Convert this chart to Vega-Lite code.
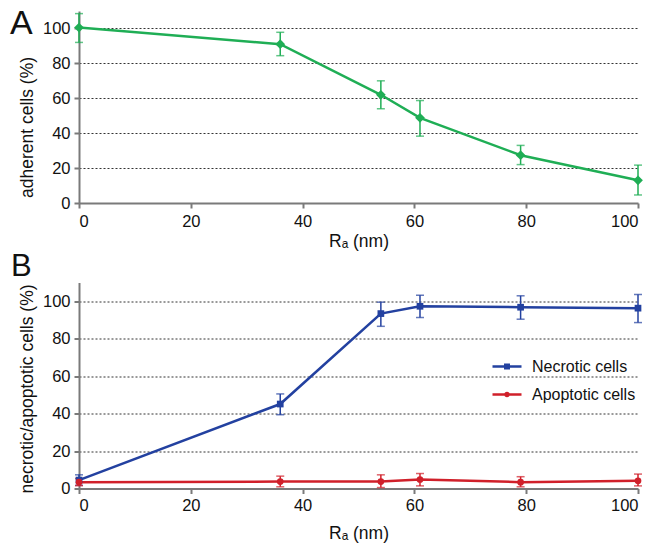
{
  "$schema": "https://vega.github.io/schema/vega-lite/v6.json",
  "background": "white",
  "padding": {"left": 10, "top": 7, "right": 5, "bottom": 5},
  "spacing": 0.5,
  "resolve": {"scale": {"shape": "independent", "color": "independent"}, "legend": {"shape": "independent", "color": "independent"}},
  "datasets": {
    "adherent": [
      {"Ra": 0, "value": 100.5, "lo": 92, "hi": 108.5},
      {"Ra": 36, "value": 91, "lo": 84.4, "hi": 97.8},
      {"Ra": 54, "value": 62, "lo": 54, "hi": 70},
      {"Ra": 61, "value": 48.8, "lo": 38.3, "hi": 58.7},
      {"Ra": 79, "value": 27.4, "lo": 22, "hi": 33},
      {"Ra": 100, "value": 13, "lo": 4.6, "hi": 21.7}
    ],
    "death": [
      {"series": "Necrotic cells", "Ra": 0, "value": 4.5, "lo": 1.7, "hi": 7.3},
      {"series": "Necrotic cells", "Ra": 36, "value": 45.1, "lo": 39.4, "hi": 50.5},
      {"series": "Necrotic cells", "Ra": 54, "value": 93.4, "lo": 86.6, "hi": 99.5},
      {"series": "Necrotic cells", "Ra": 61, "value": 97.3, "lo": 91.3, "hi": 103.2},
      {"series": "Necrotic cells", "Ra": 79, "value": 96.8, "lo": 90.4, "hi": 102.9},
      {"series": "Necrotic cells", "Ra": 100, "value": 96.3, "lo": 88.6, "hi": 103.6},
      {"series": "Apoptotic cells", "Ra": 0, "value": 3.4, "lo": 1.5, "hi": 5.3},
      {"series": "Apoptotic cells", "Ra": 36, "value": 3.7, "lo": 0.9, "hi": 6.6},
      {"series": "Apoptotic cells", "Ra": 54, "value": 3.7, "lo": 0.5, "hi": 7.3},
      {"series": "Apoptotic cells", "Ra": 61, "value": 4.8, "lo": 1.4, "hi": 8},
      {"series": "Apoptotic cells", "Ra": 79, "value": 3.4, "lo": 0.9, "hi": 6.3},
      {"series": "Apoptotic cells", "Ra": 100, "value": 4.1, "lo": 1.4, "hi": 7.7}
    ]
  },
  "vconcat": [
    {
      "width": 559,
      "height": 192,
      "title": {"text": "A", "anchor": "start", "frame": "group", "fontSize": 34, "fontWeight": "normal", "dx": -69, "dy": 30, "offset": 0, "color": "#111"},
      "data": {"name": "adherent"},
      "encoding": {
        "x": {"field": "Ra", "type": "quantitative", "scale": {"domain": [0, 100], "nice": false}, "axis": {"values": [0, 20, 40, 60, 80, 100], "grid": false, "title": "Rₐ (nm)", "labelPadding": 5.5, "titlePadding": 2}},
        "y": {"field": "value", "type": "quantitative", "scale": {"domain": [0, 110], "nice": false}, "title": "adherent cells (%)", "axis": {"values": [0, 20, 40, 60, 80, 100], "grid": true, "titleY": 116}}
      },
      "layer": [
        {
          "mark": {"type": "errorbar", "ticks": {"size": 8, "thickness": 1.5}, "rule": {"strokeWidth": 1.5}, "color": "#1fae55"},
          "encoding": {"y": {"field": "lo", "type": "quantitative", "title": "adherent cells (%)"}, "y2": {"field": "hi"}}
        },
        {"mark": {"type": "line", "color": "#1fae55", "strokeWidth": 2.5}},
        {"mark": {"type": "point", "shape": "diamond", "filled": true, "opacity": 1, "size": 95, "color": "#1fae55"}}
      ]
    },
    {
      "width": 559,
      "height": 206,
      "title": {"text": "B", "anchor": "start", "frame": "group", "fontSize": 31, "fontWeight": "normal", "dx": -68, "dy": 4, "offset": 4, "color": "#111"},
      "data": {"name": "death"},
      "encoding": {
        "x": {"field": "Ra", "type": "quantitative", "scale": {"domain": [0, 100], "nice": false}, "axis": {"values": [0, 20, 40, 60, 80, 100], "grid": false, "title": "Rₐ (nm)", "labelPadding": 3.5, "titlePadding": 11}},
        "y": {"field": "value", "type": "quantitative", "scale": {"domain": [0, 110], "nice": false}, "title": "necrotic/apoptotic cells (%)", "axis": {"values": [0, 20, 40, 60, 80, 100], "grid": true, "titleY": 106}}
      },
      "layer": [
        {
          "transform": [{"filter": "datum.series === 'Necrotic cells'"}],
          "mark": {"type": "errorbar", "ticks": {"size": 8, "thickness": 1.5}, "rule": {"strokeWidth": 1.5}, "color": "#2341a0"},
          "encoding": {"y": {"field": "lo", "type": "quantitative", "title": "necrotic/apoptotic cells (%)"}, "y2": {"field": "hi"}}
        },
        {
          "transform": [{"filter": "datum.series === 'Apoptotic cells'"}],
          "mark": {"type": "errorbar", "ticks": {"size": 8, "thickness": 1.5}, "rule": {"strokeWidth": 1.5}, "color": "#d0202a"},
          "encoding": {"y": {"field": "lo", "type": "quantitative", "title": "necrotic/apoptotic cells (%)"}, "y2": {"field": "hi"}}
        },
        {
          "transform": [{"filter": "datum.series === 'Necrotic cells'"}],
          "mark": {"type": "line", "strokeWidth": 2.5, "color": "#2341a0"}
        },
        {
          "transform": [{"filter": "datum.series === 'Apoptotic cells'"}],
          "mark": {"type": "line", "strokeWidth": 2.5, "color": "#d0202a"}
        },
        {
          "transform": [{"filter": "datum.series === 'Necrotic cells'"}],
          "mark": {"type": "point", "shape": "square", "filled": true, "opacity": 1, "size": 45, "color": "#2341a0"}
        },
        {
          "transform": [{"filter": "datum.series === 'Apoptotic cells'"}],
          "mark": {"type": "point", "shape": "circle", "filled": true, "opacity": 1, "size": 45, "color": "#d0202a"}
        },
        {
          "transform": [{"filter": "false"}],
          "mark": {"type": "point", "filled": false, "opacity": 1, "strokeWidth": 2.5},
          "encoding": {
            "color": {
              "field": "series", "type": "nominal",
              "scale": {"domain": ["Necrotic cells", "Apoptotic cells"], "range": ["#2341a0", "#d0202a"]},
              "legend": {
                "title": null,
                "orient": "none",
                "legendX": 412,
                "legendY": 68,
                "padding": 0,
                "symbolSize": 841,
                "symbolStrokeWidth": 2.5,
                "symbolOpacity": 1,
                "labelFontSize": 16,
                "labelColor": "#111",
                "labelOffset": 9,
                "rowPadding": 4
              }
            },
            "shape": {
              "field": "series", "type": "nominal",
              "scale": {"domain": ["Necrotic cells", "Apoptotic cells"], "range": ["M-1,0H1M-0.12,-0.12H0.12V0.12H-0.12Z", "M-1,0H1M0.11,0A0.11,0.11 0 1 1 -0.11,0A0.11,0.11 0 1 1 0.11,0Z"]},
              "legend": {
                "title": null,
                "orient": "none",
                "legendX": 412,
                "legendY": 68,
                "padding": 0,
                "symbolSize": 841,
                "symbolStrokeWidth": 2.5,
                "symbolOpacity": 1,
                "labelFontSize": 16,
                "labelColor": "#111",
                "labelOffset": 9,
                "rowPadding": 4
              }
            }
          }
        }
      ]
    }
  ],
  "config": {
    "font": "Liberation Sans",
    "view": {"stroke": null},
    "title": {"fontWeight": "normal"},
    "axis": {
      "domainColor": "#7a7a7a",
      "domainWidth": 2,
      "tickColor": "#7a7a7a",
      "tickWidth": 2,
      "tickSize": 5,
      "labelFontSize": 16.5,
      "labelColor": "#111",
      "labelPadding": 4,
      "titleFontSize": 17.5,
      "titleFontWeight": "normal",
      "titleColor": "#111",
      "titlePadding": 6,
      "gridColor": "#333",
      "gridDash": [2, 2],
      "gridWidth": 1
    }
  }
}
